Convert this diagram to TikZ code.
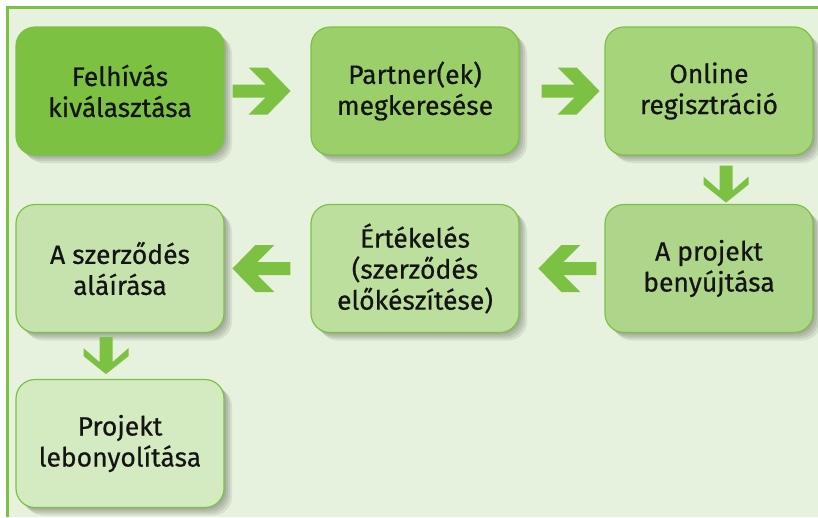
\documentclass[tikz,border=0pt]{standalone}
\usepackage{fontspec}
\setmainfont{Fira Sans}
\newfontfamily\boxfont{Fira Sans}[UprightFeatures={FakeBold=0.5}]
\usetikzlibrary{shadows,calc}
\definecolor{bg}{RGB}{231,242,222}
\definecolor{frm}{RGB}{125,193,66}
\definecolor{c1}{RGB}{125,193,66}
\definecolor{c2}{RGB}{154,207,106}
\definecolor{c3}{RGB}{165,212,122}
\definecolor{c4}{RGB}{174,214,138}
\definecolor{c5}{RGB}{188,223,157}
\definecolor{c6}{RGB}{198,227,173}
\definecolor{c7}{RGB}{212,234,193}
\definecolor{arr}{RGB}{125,193,66}
\definecolor{txt}{RGB}{20,20,20}
\tikzset{
  sh/.style={general shadow={shadow xshift=#1, shadow yshift=-#1, fill=black, opacity=0.08}},
  box/.style={rounded corners=19pt, minimum width=208pt, minimum height=128pt,
    draw=c1, line width=1.2pt, align=center, text=txt, inner sep=0pt,
    font=\boxfont\fontsize{26.5}{31}\selectfont, sh=2pt, sh=4pt, sh=6pt, sh=8pt},
  pics/rarr/.style={code={\fill[arr] (0,-6.5) -- (33,-6.5) -- (16,-23.5) -- (35,-23.5)
      -- (58,0) -- (35,23.5) -- (16,23.5) -- (33,6.5) -- (0,6.5) -- cycle;}},
  pics/darr/.style={code={\fill[arr] (-6.5,0) -- (-6.5,25) -- (-22.5,11) -- (-22.5,19)
      -- (0,37) -- (22.5,19) -- (22.5,11) -- (6.5,25) -- (6.5,0) -- cycle;}},
}
\begin{document}
\begin{tikzpicture}[x=1pt,y=-1pt]
\useasboundingbox (0,0) rectangle (818,517);
\fill[white] (0,0) rectangle (818,517);
\fill[bg] (7.5,7.5) rectangle (818,517);
\draw[frm, line width=3pt] (7.5,517) -- (7.5,7.5) -- (818,7.5);

\node[box, fill=c1] (b1) at (120,91) {Felhívás\\kiválasztása};
\node[box, fill=c2] (b2) at (415,91) {Partner(ek)\\megkeresése};
\node[box, fill=c3] (b3) at (709,91) {Online\\regisztráció};
\node[box, fill=c4] (b4) at (709,268.5) {A projekt\\benyújtása};
\node[box, fill=c5] (b5) at (415,268.5) {Értékelés\\(szerződés\\előkészítése)};
\node[box, fill=c6] (b6) at (120,268.5) {A szerződés\\aláírása};
\node[box, fill=c7] (b7) at (120,443.5) {Projekt\\lebonyolítása};

\pic at ($(b1.east)+(8,0)$) {rarr};
\pic at ($(b2.east)+(22,0)$) {rarr};
\pic at ($(b3.south)+(17,10)$) {darr};
\pic[rotate=180] at ($(b4.west)+(-8,0)$) {rarr};
\pic[rotate=180] at ($(b5.west)+(-20,0)$) {rarr};
\pic at ($(b6.south)+(-14,4)$) {darr};
\end{tikzpicture}
\end{document}
